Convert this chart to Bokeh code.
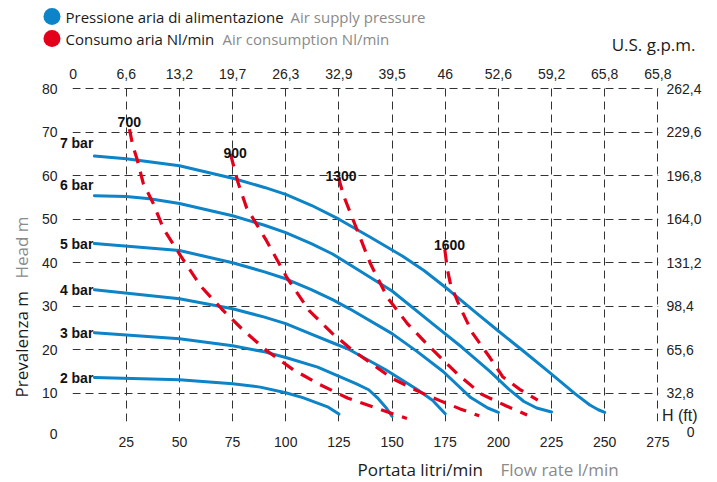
import math
from bokeh.plotting import figure
from bokeh.models import Range1d, LinearAxis, FixedTicker
from bokeh.embed import file_html
from bokeh.resources import INLINE
from bokeh.core.properties import value

# ---------------- data ----------------
flow_ticks = [25, 50, 75, 100, 125, 150, 175, 200, 225, 250, 275]
gpm_ticks = [0, 25, 50, 75, 100, 125, 150, 175, 200, 225, 250, 275]
gpm_labels = ["0", "6,6", "13,2", "19,7", "26,3", "32,9", "39,5", "46", "52,6", "59,2", "65,8", "65,8"]
head_ticks = [10, 20, 30, 40, 50, 60, 70, 80]
ft_labels = ["32,8", "65,6", "98,4", "131,2", "164,0", "196,8", "229,6", "262,4"]

# air supply pressure curves (flow l/min, head m)
p7_x = [10, 25, 50, 75, 90, 100, 112, 125, 140, 155, 165, 177, 190, 200, 212, 224, 236, 243, 247, 250]
p7_y = [64.5, 63.9, 62.3, 59.4, 57.3, 55.7, 53.2, 50.0, 45.8, 41.5, 38.2, 33.6, 28.3, 24.3, 19.6, 14.8, 9.9, 7.3, 6.2, 5.6]
p6_x = [10, 25, 36, 50, 75, 90, 100, 112, 122, 130, 150, 169, 183, 196, 205, 212, 218, 225]
p6_y = [55.4, 55.2, 54.7, 53.6, 50.8, 48.6, 46.9, 44.4, 42.0, 39.6, 33.5, 26.0, 20.5, 15.0, 10.9, 8.1, 6.6, 5.7]
p5_x = [10, 50, 75, 90, 100, 112, 122, 130, 150, 162, 174, 187, 195, 200]
p5_y = [44.4, 42.8, 40.0, 37.9, 36.3, 33.8, 31.5, 29.4, 23.7, 19.5, 15.0, 9.0, 6.6, 5.6]
p4_x = [10, 50, 75, 90, 100, 112, 122, 130, 147, 162, 169, 175]
p4_y = [33.8, 31.7, 29.4, 27.5, 26.0, 23.6, 21.6, 20.0, 15.4, 10.8, 8.4, 5.3]
p3_x = [10, 50, 75, 90, 100, 115, 124, 133, 139, 143, 147, 150]
p3_y = [23.9, 22.5, 20.9, 19.5, 18.2, 16.0, 14.1, 12.2, 10.8, 9.0, 6.8, 4.7]
p2_x = [10, 50, 75, 88, 100, 108, 114, 120, 125]
p2_y = [13.6, 13.1, 12.2, 11.4, 10.1, 9.0, 7.9, 6.8, 5.2]
pressure_x = [p2_x, p3_x, p4_x, p5_x, p6_x, p7_x]
pressure_y = [p2_y, p3_y, p4_y, p5_y, p6_y, p7_y]
bar_names = ["2 bar", "3 bar", "4 bar", "5 bar", "6 bar", "7 bar"]
bar_label_x = [9.5, 9.5, 9.5, 9.5, 9.5, 9.5]
bar_label_y = [13.6, 23.9, 33.8, 44.4, 57.9, 67.6]

# air consumption curves Nl/min
c700_x = [26.5, 28, 30, 33, 37.7, 42.5, 50, 60, 70, 80, 91, 103.5, 116, 129, 143, 157]
c700_y = [70.7, 67.0, 63.9, 58.2, 53.6, 47.8, 42.0, 34.6, 29.3, 24.5, 19.8, 15.4, 12.0, 8.9, 6.5, 4.2]
c900_x = [74, 77.5, 81.6, 91, 100.5, 111, 122, 131.6, 150.4, 161.6, 172.5, 182, 191]
c900_y = [65.0, 58.5, 52.6, 45.0, 36.6, 29.0, 23.7, 19.8, 13.3, 10.6, 8.3, 6.4, 4.8]
c1300_x = [124.8, 127.2, 131.8, 139.8, 147.8, 157.2, 168, 181, 192, 204, 213.5]
c1300_y = [59.6, 55.4, 49.7, 39.8, 32.0, 26.0, 20.5, 14.3, 9.8, 7.0, 5.0]
c1600_x = [174.8, 176, 177.5, 182, 188, 196, 202, 210, 218.5]
c1600_y = [43.0, 38.5, 35.0, 29.7, 23.7, 18.2, 13.8, 10.9, 8.4]
cons_x = [c700_x, c900_x, c1300_x, c1600_x]
cons_y = [c700_y, c900_y, c1300_y, c1600_y]
cons_names = ["700", "900", "1300", "1600"]
cons_label_x = [26.4, 76.2, 126.0, 177.0]
cons_label_y = [72.4, 65.3, 60.0, 44.1]

legend_it = ["Pressione aria di alimentazione", "Consumo aria Nl/min"]
legend_en = ["Air supply pressure", "Air consumption Nl/min"]

BLUE = "#0d83c8"
RED = "#e3001b"
GRAY = "#8a8a8a"
INK = "#1a1a1a"
TICK = "#222222"

# ---------------- layout constants (pixels) ----------------
W, H = 717, 482
BL, BR, BT, BB = 72, 59, 86, 61
XR = (-0.3, 275.3)
YR = (3.5, 80.5)


def dx(px):
    """canvas pixel -> data x (for decorations placed outside the frame)"""
    return XR[0] + (px - BL) * (XR[1] - XR[0]) / (W - BL - BR)


def dy(py):
    return YR[1] - (py - BT) * (YR[1] - YR[0]) / (H - BT - BB)


p = figure(width=W, height=H, x_range=Range1d(*XR), y_range=Range1d(*YR),
           output_backend="svg", toolbar_location=None,
           min_border_left=BL, min_border_right=BR, min_border_top=BT, min_border_bottom=BB)
p.outline_line_color = None


def style_axis(ax, standoff):
    ax.axis_line_color = None
    ax.major_tick_line_color = None
    ax.minor_tick_line_color = None
    ax.major_tick_out = 0
    ax.major_tick_in = 0
    ax.minor_tick_out = 0
    ax.major_label_standoff = standoff
    ax.major_label_text_font = "Liberation Sans"
    ax.major_label_text_font_size = "14px"
    ax.major_label_text_color = TICK


p.xaxis.ticker = FixedTicker(ticks=flow_ticks)
p.yaxis.ticker = FixedTicker(ticks=head_ticks)
style_axis(p.xaxis[0], 15)
style_axis(p.yaxis[0], 15)

top_axis = LinearAxis(ticker=FixedTicker(ticks=gpm_ticks),
                      major_label_overrides=dict(zip(gpm_ticks, gpm_labels)))
style_axis(top_axis, 8)
p.add_layout(top_axis, "above")

right_axis = LinearAxis(ticker=FixedTicker(ticks=head_ticks),
                        major_label_overrides=dict(zip(head_ticks, ft_labels)))
style_axis(right_axis, 8)
p.add_layout(right_axis, "right")

p.xgrid.ticker = FixedTicker(ticks=flow_ticks)
p.ygrid.ticker = FixedTicker(ticks=head_ticks)
for g in (p.xgrid[0], p.ygrid[0]):
    g.grid_line_color = "#333333"
    g.grid_line_dash = "8 5"
    g.grid_line_width = 1

# curves
p.multi_line(xs=pressure_x, ys=pressure_y, line_color=BLUE, line_width=3, line_cap="round",
             line_join="round")
p.multi_line(xs=cons_x, ys=cons_y, line_color=RED, line_width=3.2, line_dash="13 9")

p.text(x=cons_label_x, y=cons_label_y, text=cons_names, text_font=value("Liberation Sans"),
       text_font_style="bold", text_font_size="14px", text_align="center",
       text_baseline="middle", text_color="#111111")

p.text(x=bar_label_x, y=bar_label_y, text=bar_names, text_font=value("Liberation Sans"),
       text_font_style="bold", text_font_size="14px", text_align="right",
       text_baseline="middle", text_color="#111111", level="overlay")


def deco(px, py, text, font="Open Sans", size="17px", color=INK, align="left", angle=0.0):
    p.text(x=[dx(px)], y=[dy(py)], text=[text], text_font=value(font), text_font_size=size,
           text_color=color, text_align=align, text_baseline="middle", angle=angle,
           level="overlay")


# legend (top left)
p.ellipse(x=[dx(51.5), dx(51.5)], y=[dy(16), dy(38)], width=17, height=17,
          width_units="screen", height_units="screen", fill_color=[BLUE, RED],
          line_color=None, level="overlay")
deco(65, 16, legend_it[0], size="15px")
deco(290, 16, legend_en[0], size="15px", color=GRAY)
deco(65, 38, legend_it[1], size="15px")
deco(222, 38, legend_en[1], size="15px", color=GRAY)
deco(695, 44, "U.S. g.p.m.", align="right")

# axis titles and extra labels
deco(357, 469, "Portata litri/min")
deco(500, 469, "Flow rate l/min", color=GRAY)
deco(21, 397, "Prevalenza m", angle=math.pi / 2)
deco(21, 278, "Head m", color=GRAY, angle=math.pi / 2)
deco(57, 433, "0", font="Liberation Sans", size="14px", color=TICK, align="right")
deco(694, 431, "0", font="Liberation Sans", size="14px", color=TICK, align="right")
deco(697, 415, "H (ft)", font="Liberation Sans", size="16px", color=TICK, align="right")

open("out.html", "w").write(file_html(p, INLINE))
